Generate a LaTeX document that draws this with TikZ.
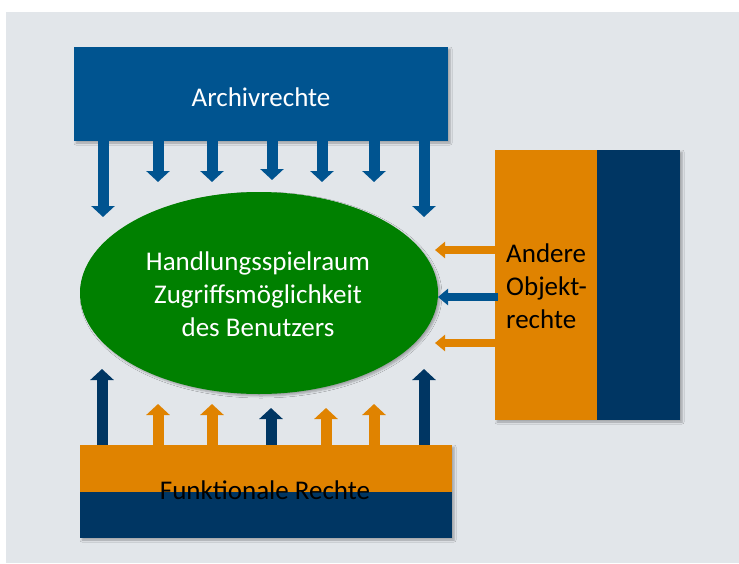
\documentclass[tikz,border=0pt]{standalone}
\usepackage{fontspec}
\setmainfont{Carlito}
\usetikzlibrary{arrows.meta,shapes.geometric,shadows.blur}
\definecolor{bgGray}{RGB}{226,230,234}
\definecolor{archBlue}{RGB}{0,84,144}
\definecolor{rightsOrange}{RGB}{224,131,0}
\definecolor{rightsNavy}{RGB}{0,54,99}
\definecolor{spaceGreen}{RGB}{0,128,0}

\begin{document}
\begin{tikzpicture}[x=1pt,y=-1pt,
  softshadow/.style={blur shadow={shadow xshift=2pt,shadow yshift=-2pt,shadow blur steps=5,shadow blur radius=2pt,shadow opacity=30}},
  block/.style={draw=none,inner sep=0pt,softshadow},
  txt/.style={font=\fontsize{27}{33}\selectfont,inner sep=0pt},
  fatarrow/.style={line width=11pt,-{Triangle[width=23pt,length=11pt]}},
  slimarrow/.style={line width=8pt,-{Triangle[width=16pt,length=10pt]}},
]
% page and panel background
\fill[white] (0,0) rectangle (739,563);
\useasboundingbox (0,0) rectangle (739,563);
\fill[bgGray] (6,12) rectangle (739,563);

% central ellipse
\node[block,ellipse,fill=spaceGreen,minimum width=358pt,minimum height=202pt] (space) at (259,293) {};
\node[txt,text=white,align=center] (spaceText) at (258,294)
  {Handlungsspielraum\\Zugriffsmöglichkeit\\des Benutzers};

% archive rights (top)
\node[block,fill=archBlue,minimum width=374pt,minimum height=94pt] (arch) at (261,94) {};
\node[txt,text=white] (archText) at (261,97) {Archivrechte};

% functional rights (bottom)
\node[block,fill=rightsNavy,minimum width=372pt,minimum height=93pt] (func) at (266,491.5) {};
\fill[rightsOrange] (func.north west) rectangle (func.east |- 0,492);
\node[txt,text=black] (funcText) at (265,490) {Funktionale Rechte};

% other object rights (right)
\node[block,fill=rightsNavy,minimum width=185pt,minimum height=270pt] (obj) at (587.5,285) {};
\fill[rightsOrange] (obj.north west) rectangle (597,0 |- obj.south);
\node[txt,text=black,align=left,anchor=west] (objText) at (506,286) {Andere\\Objekt-\\rechte};

% arrows from the archive rights
\foreach \x/\tip [count=\i] in {103/217,158/182,212/182,272/180,322/182,374/182,424/217}{
  \coordinate (archTip\i) at (\x,\tip);
  \draw[fatarrow,archBlue] (arch.south -| \x,0) -- (archTip\i);
}

% arrows from the functional rights
\foreach \x/\tip/\col [count=\i] in {102/369/rightsNavy,158/404/rightsOrange,212/404/rightsOrange,271/408/rightsNavy,326/408/rightsOrange,374/404/rightsOrange,424/369/rightsNavy}{
  \coordinate (funcTip\i) at (\x,\tip);
  \draw[fatarrow,\col] (func.north -| \x,0) -- (funcTip\i);
}

% arrows from the other object rights
\coordinate (objTip1) at (435,250);
\coordinate (objTip2) at (438,297);
\coordinate (objTip3) at (435,343);
\draw[slimarrow,rightsOrange] (obj.west |- 0,250) -- (objTip1);
\draw[slimarrow,archBlue] ([xshift=3pt]obj.west |- 0,297) -- (objTip2);
\draw[slimarrow,rightsOrange] (obj.west |- 0,343) -- (objTip3);
\end{tikzpicture}
\end{document}
